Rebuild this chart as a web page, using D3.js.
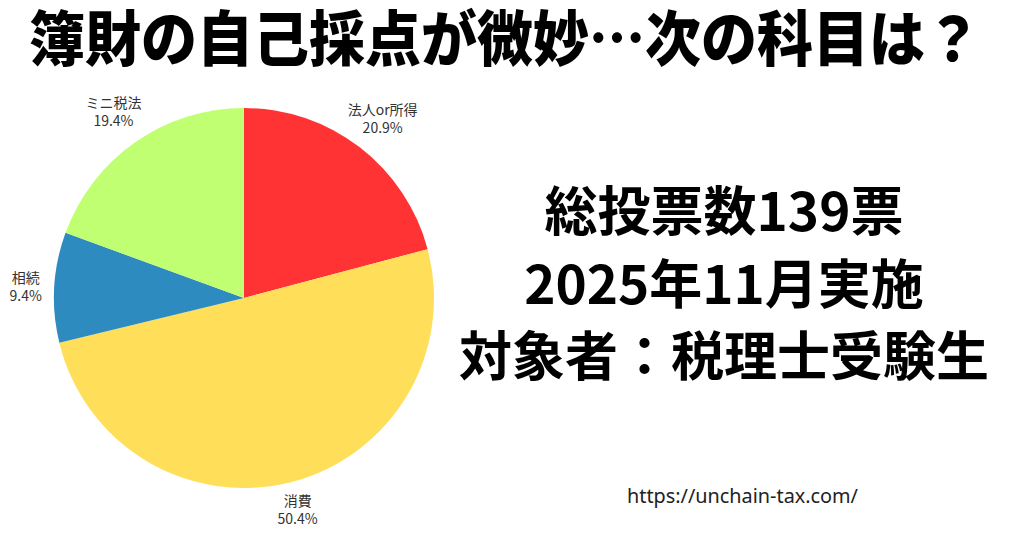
<!DOCTYPE html>
<html><head><meta charset="utf-8">
<script src="https://cdn.jsdelivr.net/npm/d3@7"></script>
<style>body{margin:0;background:#fff;}svg{display:block;}</style>
</head><body>
<svg id="c" width="1024" height="538"></svg>
<script>
const categories = ["法人or所得", "消費", "相続", "ミニ税法"];
const votes = [29, 70, 13, 27];
const colors = ["#ff3333", "#ffde59", "#2e8bc0", "#c1ff72"];
const infoLines = ["総投票数139票", "2025年11月実施", "対象者：税理士受験生"];
const titleText = "簿財の自己採点が微妙…次の科目は？";
const urlText = "https://unchain-tax.com/";

const svg = d3.select("#c");
const W = 1024, H = 538;
svg.append("rect").attr("width", W).attr("height", H).attr("fill", "#fff");

svg.append("text").attr("x", 505).attr("y", 61).attr("text-anchor", "middle")
  .attr("font-family", "Noto Sans CJK JP").attr("font-weight", 900).attr("font-size", 60)
  .attr("textLength", 952).attr("lengthAdjust", "spacingAndGlyphs")
  .attr("fill", "#000").text(titleText);

const cx = 244, cy = 298, r = 190;
const total = d3.sum(votes);
const data = categories.map((c, i) => ({ c, v: votes[i], col: colors[i] }));
const pie = d3.pie().value(d => d.v).sort(null);
const arc = d3.arc().innerRadius(0).outerRadius(r);
const g = svg.append("g").attr("transform", `translate(${cx},${cy})`);
const arcs = pie(data);
g.selectAll("path").data(arcs).enter().append("path")
  .attr("d", arc).attr("fill", d => d.data.col);

arcs.forEach(a => {
  const th = (a.startAngle + a.endAngle) / 2;
  const R = r + 28 + 12 * Math.max(0, Math.cos(th));
  const x = R * Math.sin(th), y = -R * Math.cos(th);
  const t = g.append("text").attr("text-anchor", "middle")
    .attr("font-family", "Noto Sans CJK JP").attr("font-size", 14).attr("fill", "#333");
  t.append("tspan").attr("x", x).attr("y", y - 3).text(a.data.c);
  t.append("tspan").attr("x", x).attr("y", y + 15)
    .text((a.data.v / total * 100).toFixed(1) + "%");
});

infoLines.forEach((s, i) => {
  svg.append("text").attr("x", 724).attr("y", 231 + i * 72.5).attr("text-anchor", "middle")
    .attr("font-family", "Noto Sans CJK JP").attr("font-weight", 700).attr("font-size", 53)
    .attr("fill", "#000").text(s);
});

svg.append("text").attr("x", 627).attr("y", 503)
  .attr("font-family", "Noto Sans").attr("font-size", 19).attr("fill", "#222")
  .attr("textLength", 231).attr("lengthAdjust", "spacingAndGlyphs").text(urlText);
</script>
</body></html>
